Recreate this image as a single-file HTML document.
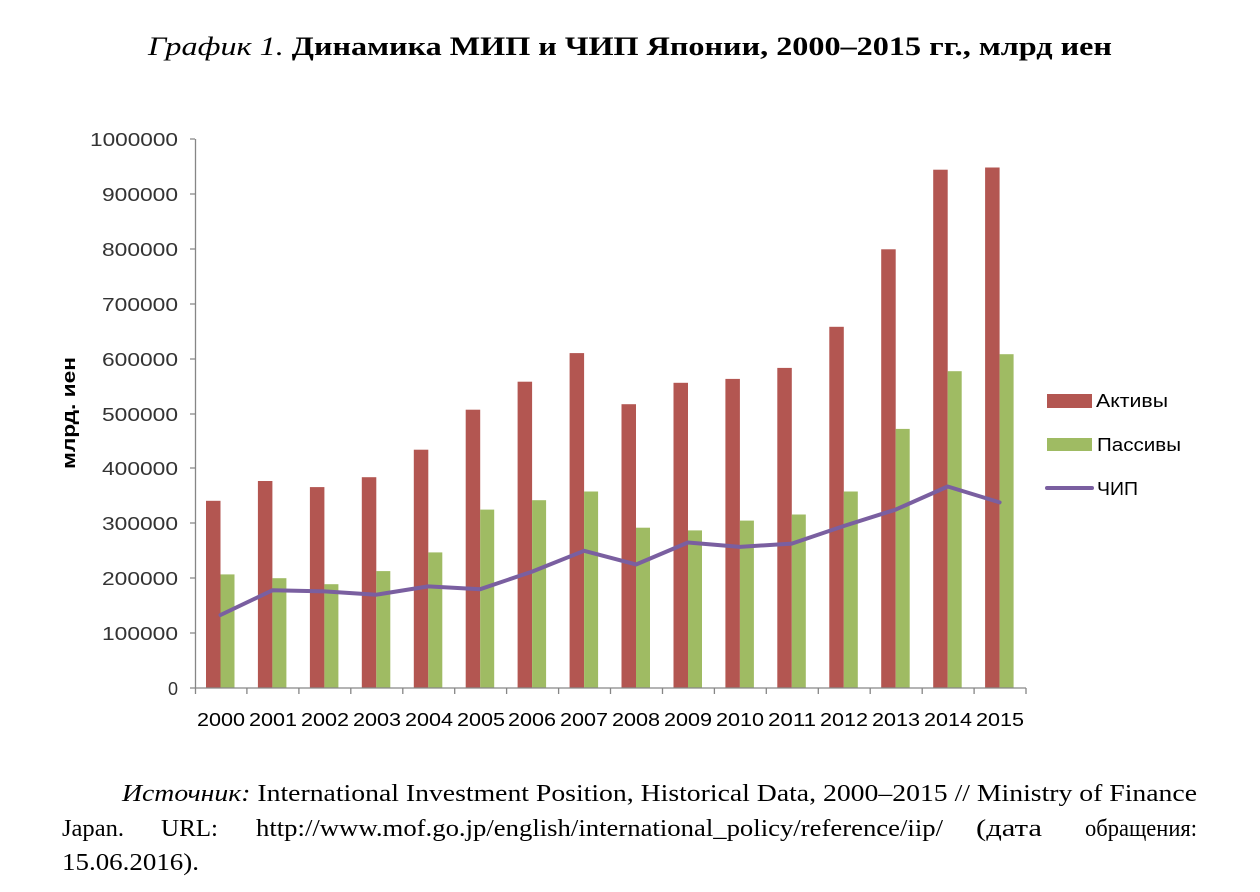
<!DOCTYPE html>
<html><head><meta charset="utf-8"><style>
html,body{margin:0;padding:0;background:#fff;}
svg{display:block;}
</style></head><body>
<svg width="1260" height="892" xmlns="http://www.w3.org/2000/svg">
<rect width="1260" height="892" fill="#fff"/>
<text x="148" y="55" font-family="Liberation Serif, serif" font-size="26" fill="#000" textLength="964" lengthAdjust="spacingAndGlyphs"><tspan font-style="italic">График 1.</tspan><tspan font-weight="bold"> Динамика МИП и ЧИП Японии, 2000–2015 гг., млрд иен</tspan></text>

<g font-family="Liberation Sans, sans-serif" font-size="18" fill="#333" text-anchor="end" lengthAdjust="spacingAndGlyphs">
<text x="178" y="146" textLength="88" lengthAdjust="spacingAndGlyphs">1000000</text>
<text x="178" y="201" textLength="76" lengthAdjust="spacingAndGlyphs">900000</text>
<text x="178" y="256" textLength="76" lengthAdjust="spacingAndGlyphs">800000</text>
<text x="178" y="311" textLength="76" lengthAdjust="spacingAndGlyphs">700000</text>
<text x="178" y="366" textLength="76" lengthAdjust="spacingAndGlyphs">600000</text>
<text x="178" y="421" textLength="76" lengthAdjust="spacingAndGlyphs">500000</text>
<text x="178" y="475" textLength="76" lengthAdjust="spacingAndGlyphs">400000</text>
<text x="178" y="530" textLength="76" lengthAdjust="spacingAndGlyphs">300000</text>
<text x="178" y="585" textLength="76" lengthAdjust="spacingAndGlyphs">200000</text>
<text x="178" y="640" textLength="76" lengthAdjust="spacingAndGlyphs">100000</text>
<text x="178" y="695">0</text>
</g>
<text transform="translate(75,413) rotate(-90)" text-anchor="middle" font-family="Liberation Sans, sans-serif" font-size="18" font-weight="bold" textLength="112" lengthAdjust="spacingAndGlyphs">млрд. иен</text>

<g fill="#b35651">
<rect x="206" y="500.8" width="14.5" height="187.2"/>
<rect x="257.9" y="481" width="14.5" height="207"/>
<rect x="309.9" y="487.1" width="14.5" height="200.9"/>
<rect x="361.8" y="477.2" width="14.5" height="210.8"/>
<rect x="413.8" y="449.7" width="14.5" height="238.3"/>
<rect x="465.7" y="409.7" width="14.5" height="278.3"/>
<rect x="517.6" y="381.7" width="14.5" height="306.3"/>
<rect x="569.6" y="353.1" width="14.5" height="334.9"/>
<rect x="621.5" y="404.2" width="14.5" height="283.8"/>
<rect x="673.5" y="382.8" width="14.5" height="305.2"/>
<rect x="725.4" y="378.9" width="14.5" height="309.1"/>
<rect x="777.3" y="367.9" width="14.5" height="320.1"/>
<rect x="829.3" y="326.8" width="14.5" height="361.2"/>
<rect x="881.2" y="249.3" width="14.5" height="438.7"/>
<rect x="933.2" y="169.7" width="14.5" height="518.3"/>
<rect x="985.1" y="167.5" width="14.5" height="520.5"/>
</g>
<g fill="#9fbb63">
<rect x="220.5" y="574.4" width="14" height="113.6"/>
<rect x="272.4" y="578.2" width="14" height="109.8"/>
<rect x="324.4" y="584.2" width="14" height="103.8"/>
<rect x="376.3" y="571.1" width="14" height="116.9"/>
<rect x="428.3" y="552.4" width="14" height="135.6"/>
<rect x="480.2" y="509.6" width="14" height="178.4"/>
<rect x="532.1" y="500.2" width="14" height="187.8"/>
<rect x="584.1" y="491.5" width="14" height="196.5"/>
<rect x="636" y="527.7" width="14" height="160.3"/>
<rect x="688" y="530.4" width="14" height="157.6"/>
<rect x="739.9" y="520.6" width="14" height="167.4"/>
<rect x="791.8" y="514.5" width="14" height="173.5"/>
<rect x="843.8" y="491.5" width="14" height="196.5"/>
<rect x="895.7" y="428.9" width="14" height="259.1"/>
<rect x="947.7" y="371.2" width="14" height="316.8"/>
<rect x="999.6" y="354.2" width="14" height="333.8"/>
</g>

<g stroke="#868686" stroke-width="1.3" fill="none">
<line x1="195.5" y1="139" x2="195.5" y2="694"/>
<line x1="195" y1="688" x2="1026" y2="688"/>
<path d="M190 139h5M190 194h5M190 249h5M190 304h5M190 359h5M190 414h5M190 468h5M190 523h5M190 578h5M190 633h5M190 688h5"/>
<path d="M246.9 688v6M298.9 688v6M350.8 688v6M402.8 688v6M454.7 688v6M506.6 688v6M558.6 688v6M610.5 688v6M662.5 688v6M714.4 688v6M766.3 688v6M818.3 688v6M870.2 688v6M922.2 688v6M974.1 688v6M1026 688v6"/>
</g>

<polyline fill="none" stroke="#7a5fa0" stroke-width="4" stroke-linejoin="round" stroke-linecap="round" points="220.5,615 272.4,590.3 324.4,591.4 376.3,594.7 428.3,586.4 480.2,589.2 532.1,571.6 584.1,550.8 636,564.5 688,542.5 739.9,546.9 791.8,543.6 843.8,526 895.7,509.6 947.7,486.5 999.6,502.4"/>

<g font-family="Liberation Sans, sans-serif" font-size="18" fill="#000" text-anchor="middle">
<text x="221" y="726" textLength="48" lengthAdjust="spacingAndGlyphs">2000</text>
<text x="273" y="726" textLength="48" lengthAdjust="spacingAndGlyphs">2001</text>
<text x="325" y="726" textLength="48" lengthAdjust="spacingAndGlyphs">2002</text>
<text x="377" y="726" textLength="48" lengthAdjust="spacingAndGlyphs">2003</text>
<text x="429" y="726" textLength="48" lengthAdjust="spacingAndGlyphs">2004</text>
<text x="481" y="726" textLength="48" lengthAdjust="spacingAndGlyphs">2005</text>
<text x="532" y="726" textLength="48" lengthAdjust="spacingAndGlyphs">2006</text>
<text x="584" y="726" textLength="48" lengthAdjust="spacingAndGlyphs">2007</text>
<text x="636" y="726" textLength="48" lengthAdjust="spacingAndGlyphs">2008</text>
<text x="688" y="726" textLength="48" lengthAdjust="spacingAndGlyphs">2009</text>
<text x="740" y="726" textLength="48" lengthAdjust="spacingAndGlyphs">2010</text>
<text x="792" y="726" textLength="48" lengthAdjust="spacingAndGlyphs">2011</text>
<text x="844" y="726" textLength="48" lengthAdjust="spacingAndGlyphs">2012</text>
<text x="896" y="726" textLength="48" lengthAdjust="spacingAndGlyphs">2013</text>
<text x="948" y="726" textLength="48" lengthAdjust="spacingAndGlyphs">2014</text>
<text x="1000" y="726" textLength="48" lengthAdjust="spacingAndGlyphs">2015</text>
</g>

<rect x="1047" y="394" width="45" height="14" fill="#b35651"/>
<rect x="1047" y="438" width="45" height="13" fill="#9fbb63"/>
<line x1="1047" y1="488" x2="1092" y2="488" stroke="#7a5fa0" stroke-width="4" stroke-linecap="round"/>
<g font-family="Liberation Sans, sans-serif" font-size="18" fill="#000">
<text x="1096" y="407" textLength="72" lengthAdjust="spacingAndGlyphs">Активы</text>
<text x="1097" y="451" textLength="84" lengthAdjust="spacingAndGlyphs">Пассивы</text>
<text x="1097" y="495" textLength="41" lengthAdjust="spacingAndGlyphs">ЧИП</text>
</g>

<g font-family="Liberation Serif, serif" font-size="24" fill="#000">
<text x="122" y="801" textLength="1075" lengthAdjust="spacingAndGlyphs"><tspan font-style="italic">Источник:</tspan> International Investment Position, Historical Data, 2000–2015 // Ministry of Finance</text>
<text x="62" y="836" textLength="62" lengthAdjust="spacingAndGlyphs">Japan.</text>
<text x="161" y="836" textLength="57" lengthAdjust="spacingAndGlyphs">URL:</text>
<text x="256" y="836" textLength="687" lengthAdjust="spacingAndGlyphs">http://www.mof.go.jp/english/international_policy/reference/iip/</text>
<text x="976" y="836" textLength="66" lengthAdjust="spacingAndGlyphs">(дата</text>
<text x="1085" y="836" textLength="112" lengthAdjust="spacingAndGlyphs">обращения:</text>
<text x="62" y="870" textLength="137" lengthAdjust="spacingAndGlyphs">15.06.2016).</text>
</g>
</svg>
</body></html>
